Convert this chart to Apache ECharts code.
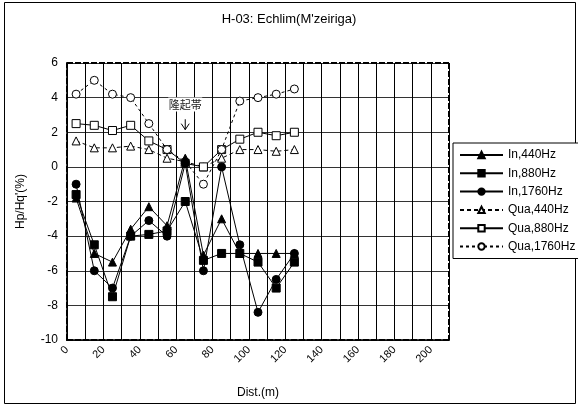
<!DOCTYPE html>
<html>
<head>
<meta charset="utf-8">
<script src="https://cdn.jsdelivr.net/npm/echarts@6/dist/echarts.min.js"></script>
<style>
html,body{margin:0;padding:0;background:#fff;}
#c{width:578px;height:405px;}
</style>
</head>
<body>
<div id="c"></div>
<script>
// Data
var distances = [5, 15, 25, 35, 45, 55, 65, 75, 85, 95, 105, 115, 125];
var in440   = [-1.8, -5.0, -5.5, -3.6, -2.3, -3.4, 0.5, -5.1, -3.0, -5.0, -5.0, -5.0, -5.0];
var in880   = [-1.6, -4.5, -7.5, -4.0, -3.9, -3.7, -2.0, -5.4, -5.0, -5.0, -5.5, -7.0, -5.5];
var in1760  = [-1.0, -6.0, -7.0, -4.0, -3.1, -4.0, 0.2, -6.0, 0.0, -4.5, -8.4, -6.5, -5.0];
var qua440  = [1.5, 1.1, 1.1, 1.2, 1.0, 0.5, 0.3, 0.0, 0.5, 1.0, 1.0, 0.9, 1.0];
var qua880  = [2.5, 2.4, 2.1, 2.4, 1.5, 1.0, 0.2, 0.0, 1.0, 1.6, 2.0, 1.8, 2.0];
var qua1760 = [4.2, 5.0, 4.2, 4.0, 2.5, 1.0, 0.3, -1.0, 1.0, 3.8, 4.0, 4.2, 4.5];
var seriesNames = ['In,440Hz', 'In,880Hz', 'In,1760Hz', 'Qua,440Hz', 'Qua,880Hz', 'Qua,1760Hz'];
var titleText = "H-03: Echlim(M'zeiriga)";
var xName = 'Dist.(m)';
var yName = "Hp/Hq'(%)";
var annotText = '隆起帯';
var annotX = 65, annotTextY = 3.6, annotArrowFrom = 2.75, annotArrowTo = 2.15;

function pairs(vals) { return distances.map(function (d, i) { return [d, vals[i]]; }); }

var FONT = "'Liberation Sans', Arial, sans-serif";
var chart = echarts.init(document.getElementById('c'), null, {renderer: 'canvas'});

function mkSeries(name, vals, symbol, filled, lineType, size, z) {
  return {
    name: name, type: 'line', data: pairs(vals),
    symbol: symbol, symbolSize: size, showAllSymbol: true,
    z: z,
    lineStyle: {color: '#000', width: 1, type: lineType},
    itemStyle: {color: filled ? '#000' : '#fff', borderColor: '#000', borderWidth: 1},
    emphasis: {disabled: true},
    animation: false
  };
}

var option = {
  backgroundColor: '#fff',
  animation: false,
  textStyle: {fontFamily: FONT},
  title: {
    text: titleText, left: 'center', top: 8,
    textStyle: {fontFamily: FONT, fontSize: 13, fontWeight: 'normal', color: '#000'}
  },
  legend: {
    orient: 'vertical', left: 453, top: 143,
    data: seriesNames,
    itemWidth: 43, itemHeight: 8, itemGap: 4.3,
    padding: [5, 4, 5, 6],
    backgroundColor: '#fff', borderColor: '#000', borderWidth: 1,
    textStyle: {fontFamily: FONT, fontSize: 12, color: '#000', lineHeight: 14},
    selectedMode: false
  },
  grid: {
    left: 67, right: 129, top: 63, bottom: 65,
    show: true, borderColor: '#000', borderWidth: 0, backgroundColor: '#fff'
  },
  xAxis: {
    type: 'value', min: 0, max: 210, interval: 10,
    name: xName, nameLocation: 'middle', nameGap: 47,
    nameTextStyle: {fontFamily: FONT, fontSize: 12, color: '#000'},
    axisLine: {show: true, onZero: false, lineStyle: {color: '#000', width: 2, type: [6, 2]}},
    axisTick: {show: true, inside: true, length: 3, lineStyle: {color: '#000'}},
    axisLabel: {
      rotate: 45, margin: 8, color: '#000', fontFamily: FONT, fontSize: 11,
      formatter: function (v) { return v % 20 === 0 ? String(v) : ''; }
    },
    splitLine: {show: true, lineStyle: {color: '#000', width: 1}}
  },
  yAxis: {
    type: 'value', min: -10, max: 6, interval: 2,
    name: yName, nameLocation: 'middle', nameGap: 40, nameRotate: 90,
    nameTextStyle: {fontFamily: FONT, fontSize: 12, color: '#000'},
    axisLine: {show: true, onZero: false, lineStyle: {color: '#000', width: 2, type: [6, 2]}},
    axisTick: {show: false},
    axisLabel: {margin: 9, color: '#000', fontFamily: FONT, fontSize: 12},
    splitLine: {show: true, lineStyle: {color: '#333', width: 1}}
  },
  series: [
    mkSeries(seriesNames[0], in440, 'triangle', true, 'solid', 8, 4),
    mkSeries(seriesNames[1], in880, 'rect', true, 'solid', 8, 4),
    mkSeries(seriesNames[2], in1760, 'circle', true, 'solid', 8, 4),
    mkSeries(seriesNames[3], qua440, 'triangle', false, [4, 3], 8, 3),
    mkSeries(seriesNames[4], qua880, 'rect', false, 'solid', 8, 3),
    mkSeries(seriesNames[5], qua1760, 'circle', false, [3, 3], 8, 3)
  ]
};
chart.setOption(option);

// Right and top frame (dashed) + annotation, positioned through the grid's scales
var pTL = chart.convertToPixel({gridIndex: 0}, [0, 6]);
var pBR = chart.convertToPixel({gridIndex: 0}, [210, -10]);
var pText = chart.convertToPixel({gridIndex: 0}, [annotX, annotTextY]);
var pA0 = chart.convertToPixel({gridIndex: 0}, [annotX, annotArrowFrom]);
var pA1 = chart.convertToPixel({gridIndex: 0}, [annotX, annotArrowTo]);

chart.setOption({
  graphic: [
    {type: 'rect', shape: {x: 4.5, y: 2.5, width: 571, height: 401}, style: {fill: 'none', stroke: '#000', lineWidth: 1}, silent: true, z: 0},
    {type: 'line', shape: {x1: pTL[0], y1: pTL[1], x2: pBR[0], y2: pTL[1]}, style: {stroke: '#000', lineWidth: 2, lineDash: [6, 2]}, z: 5, silent: true},
    {type: 'line', shape: {x1: pBR[0], y1: pTL[1], x2: pBR[0], y2: pBR[1]}, style: {stroke: '#000', lineWidth: 2, lineDash: [6, 2]}, z: 5, silent: true},
    {type: 'rect', shape: {x: pText[0] - 17, y: pText[1] - 7, width: 34, height: 14}, style: {fill: '#fff'}, z: 5, silent: true},
    {type: 'text', x: pText[0], y: pText[1], style: {text: annotText, font: "11px 'Noto Sans CJK JP'", fill: '#222', align: 'center', verticalAlign: 'middle'}, z: 6, silent: true},
    {type: 'line', shape: {x1: pA0[0], y1: pA0[1], x2: pA1[0], y2: pA1[1]}, style: {stroke: '#000', lineWidth: 1}, z: 6, silent: true},
    {type: 'polyline', shape: {points: [[pA1[0] - 4, pA1[1] - 6], [pA1[0], pA1[1]], [pA1[0] + 4, pA1[1] - 6]]}, style: {stroke: '#000', lineWidth: 1, fill: 'none'}, z: 6, silent: true}
  ]
});
</script>
</body>
</html>
